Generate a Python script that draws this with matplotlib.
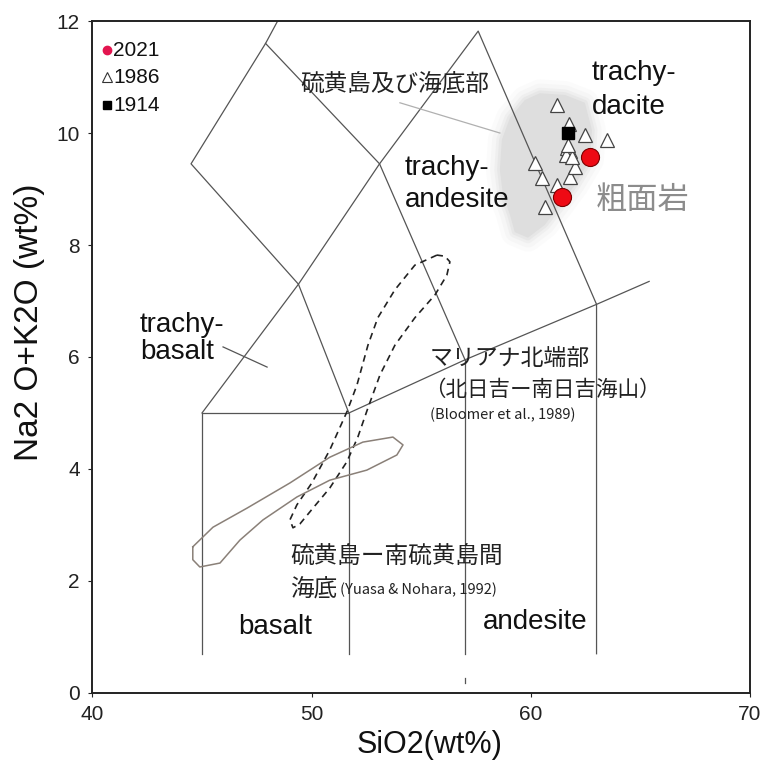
import matplotlib
matplotlib.use("Agg")
import matplotlib.pyplot as plt
from matplotlib.patches import Polygon

plt.rcParams['font.family'] = ['Liberation Sans', 'Noto Sans CJK JP', 'DejaVu Sans']

# ---------------- data ----------------
# 2021 samples (red circles)
sio2_2021 = [62.70, 61.43]
alk_2021 = [9.58, 8.85]
# 1986 samples (open triangles)
sio2_1986 = [61.18, 61.74, 62.47, 63.46, 60.19, 60.49, 61.18, 61.78, 62.01, 60.64,
             61.63, 61.78, 61.60, 61.86, 61.69]
alk_1986 = [10.50, 10.17, 9.96, 9.875, 9.46, 9.20, 9.07, 9.22, 9.40, 8.67,
            9.73, 9.67, 9.61, 9.58, 9.79]
# 1914 sample (black square)
sio2_1914 = [61.71]
alk_1914 = [10.00]

# TAS boundary polylines (SiO2, Na2O+K2O)
tas_lines = [
    ([45.0, 45.0, 51.7, 51.7], [0.7, 5.0, 5.0, 0.7]),
    ([45.0, 49.4, 53.1, 57.6, 63.0, 63.0], [5.0, 7.3, 9.45, 11.82, 6.94, 0.7]),
    ([51.7, 57.0, 63.0, 65.4], [5.0, 5.95, 6.94, 7.35]),
    ([57.0, 57.0], [5.95, 0.7]),
    ([51.7, 49.4, 44.5, 47.9, 48.45], [5.0, 7.3, 9.45, 11.6, 12.0]),
    ([47.9, 53.1, 57.0], [11.6, 9.45, 5.95]),
]

# Bloomer et al. (1989) field (dashed)
bloomer_x = [55.72, 54.71, 53.80, 53.02, 52.57, 52.07, 51.61, 50.83, 50.01, 49.33,
             49.01, 49.15, 49.47, 50.06, 50.83, 51.61, 52.11, 52.57, 53.12, 53.80,
             54.71, 55.63, 56.17, 56.31, 56.08, 55.72]
bloomer_y = [7.82, 7.64, 7.20, 6.70, 6.21, 5.50, 5.02, 4.34, 3.75, 3.36,
             3.09, 2.95, 3.02, 3.30, 3.66, 4.13, 4.57, 5.09, 5.68, 6.21,
             6.70, 7.11, 7.46, 7.70, 7.80, 7.82]

# Yuasa & Nohara (1992) field (solid)
yuasa_x = [44.58, 45.50, 47.05, 49.01, 50.83, 52.34, 53.71, 54.17, 53.89, 52.52,
           50.83, 49.33, 47.78, 46.73, 45.82, 44.90, 44.58, 44.58]
yuasa_y = [2.61, 2.96, 3.30, 3.75, 4.21, 4.48, 4.57, 4.43, 4.25, 3.98,
           3.80, 3.50, 3.09, 2.73, 2.32, 2.25, 2.38, 2.61]

# Iwo-jima field (grey shading)
field_x = [60.41, 61.56, 62.47, 62.79, 62.70, 62.01, 61.33, 60.64, 59.87, 59.27,
           59.05, 58.73, 58.59, 58.68, 59.05, 59.73]
field_y = [10.71, 10.68, 10.54, 10.05, 9.52, 9.07, 8.71, 8.36, 8.13, 8.23,
           8.54, 8.89, 9.34, 9.88, 10.27, 10.59]

x_ticks = [40, 50, 60, 70]
y_ticks = [0, 2, 4, 6, 8, 10, 12]

# ---------------- figure ----------------
fig = plt.figure(figsize=(7.7, 7.62), dpi=100)
ax = fig.add_axes([0.120, 0.0906, 0.854, 0.8818])
ax.set_xlim(40, 70)
ax.set_ylim(0, 12)

# grey field with soft edge
xy = list(zip(field_x, field_y))
for lw, a in [(20, 0.10), (14, 0.15), (8, 0.25), (4, 0.4)]:
    ax.add_patch(Polygon(xy, closed=True, facecolor='none', edgecolor='#dcdcdc',
                         lw=lw, alpha=a, joinstyle='round', zorder=1))
ax.add_patch(Polygon(xy, closed=True, facecolor='#dedede', edgecolor='none', zorder=1))

for xs, ys in tas_lines:
    ax.plot(xs, ys, color='#555555', lw=0.9, zorder=2)
ax.plot([57.0, 57.0], [0.17, 0.27], color='#555555', lw=0.9, zorder=2)

ax.plot(bloomer_x, bloomer_y, color='#222222', lw=1.2, ls=(0, (4, 3)), zorder=2)
ax.plot(yuasa_x, yuasa_y, color='#8a8078', lw=1.1, zorder=2)

# pointer lines
ax.plot([54.03, 58.59], [10.54, 10.0], color='#b0b0b0', lw=0.9, zorder=2)
ax.plot([45.96, 47.97], [6.18, 5.82], color='#555555', lw=0.9, zorder=2)

# data points
ax.plot(sio2_1986, alk_1986, ls='none', marker='^', ms=9.5, mfc='white',
        mec='#444444', mew=0.9, zorder=3)
ax.plot(sio2_1914, alk_1914, ls='none', marker='s', ms=9, mfc='black',
        mec='black', zorder=4)
ax.plot(sio2_2021, alk_2021, ls='none', marker='o', ms=13, mfc='#ee0a14',
        mec='#7a0000', mew=0.8, zorder=5)

# legend (manual)
ax.plot([40.66], [11.48], marker='o', ms=6, mfc='#e3154f', mec='#e3154f', ls='none', clip_on=False)
ax.plot([40.66], [11.00], marker='^', ms=7, mfc='white', mec='#333333', mew=0.8, ls='none', clip_on=False)
ax.plot([40.66], [10.50], marker='s', ms=6, mfc='black', mec='black', ls='none', clip_on=False)
for yv, s in [(11.48, '2021'), (11.00, '1986'), (10.50, '1914')]:
    ax.text(40.95, yv, s, fontsize=15, va='center', ha='left', color='#111111')

# category labels
lab = dict(fontsize=20, va='center', ha='left', color='#111111')
ax.text(62.79, 11.07, 'trachy-', **lab)
ax.text(62.79, 10.46, 'dacite', **lab)
ax.text(54.26, 9.375, 'trachy-', **lab)
ax.text(54.26, 8.80, 'andesite', **lab)
ax.text(42.17, 6.57, 'trachy-', **lab)
ax.text(42.17, 6.09, 'basalt', **lab)
ax.text(46.64, 1.18, 'basalt', **lab)
ax.text(57.81, 1.27, 'andesite', **lab)

jp = ['Noto Sans CJK JP', 'DejaVu Sans']
ax.text(62.97, 8.80, '粗面岩', fontsize=22.5, va='center', ha='left', color='#8c8c8c', family=jp)
ax.text(49.47, 10.86, '硫黄島及び海底部', fontsize=17, va='center', ha='left', color='#222222', family=jp)
ax.text(55.40, 5.98, 'マリアナ北端部', fontsize=16.5, va='center', ha='left', color='#222222', family=jp)
ax.text(55.15, 5.41, '（北日吉ー南日吉海山）', fontsize=15.5, va='center', ha='left', color='#222222', family=jp)
ax.text(55.40, 4.96, '(Bloomer et al., 1989)', fontsize=10.5, va='center', ha='left', color='#222222', family=jp)
ax.text(49.01, 2.43, '硫黄島ー南硫黄島間', fontsize=17, va='center', ha='left', color='#222222', family=jp)
ax.text(49.01, 1.84, '海底', fontsize=17, va='center', ha='left', color='#222222', family=jp)
ax.text(51.29, 1.84, '(Yuasa & Nohara, 1992)', fontsize=10.5, va='center', ha='left', color='#222222', family=jp)

# axes styling
ax.set_xticks(x_ticks)
ax.set_yticks(y_ticks)
ax.tick_params(direction='out', length=3, width=0.8, labelsize=15, pad=6, colors='#222222')
for sp in ax.spines.values():
    sp.set_linewidth(1.4)
    sp.set_color('#222222')

ax.set_xlabel('SiO2(wt%)', fontsize=22, va='center', color='#111111')
ax.xaxis.set_label_coords(0.513, -0.077)
ax.set_ylabel('Na2 O+K2O (wt%)', fontsize=24, va='center', color='#111111')
ax.yaxis.set_label_coords(-0.095, 0.552)

fig.savefig('out.png', dpi=100)
